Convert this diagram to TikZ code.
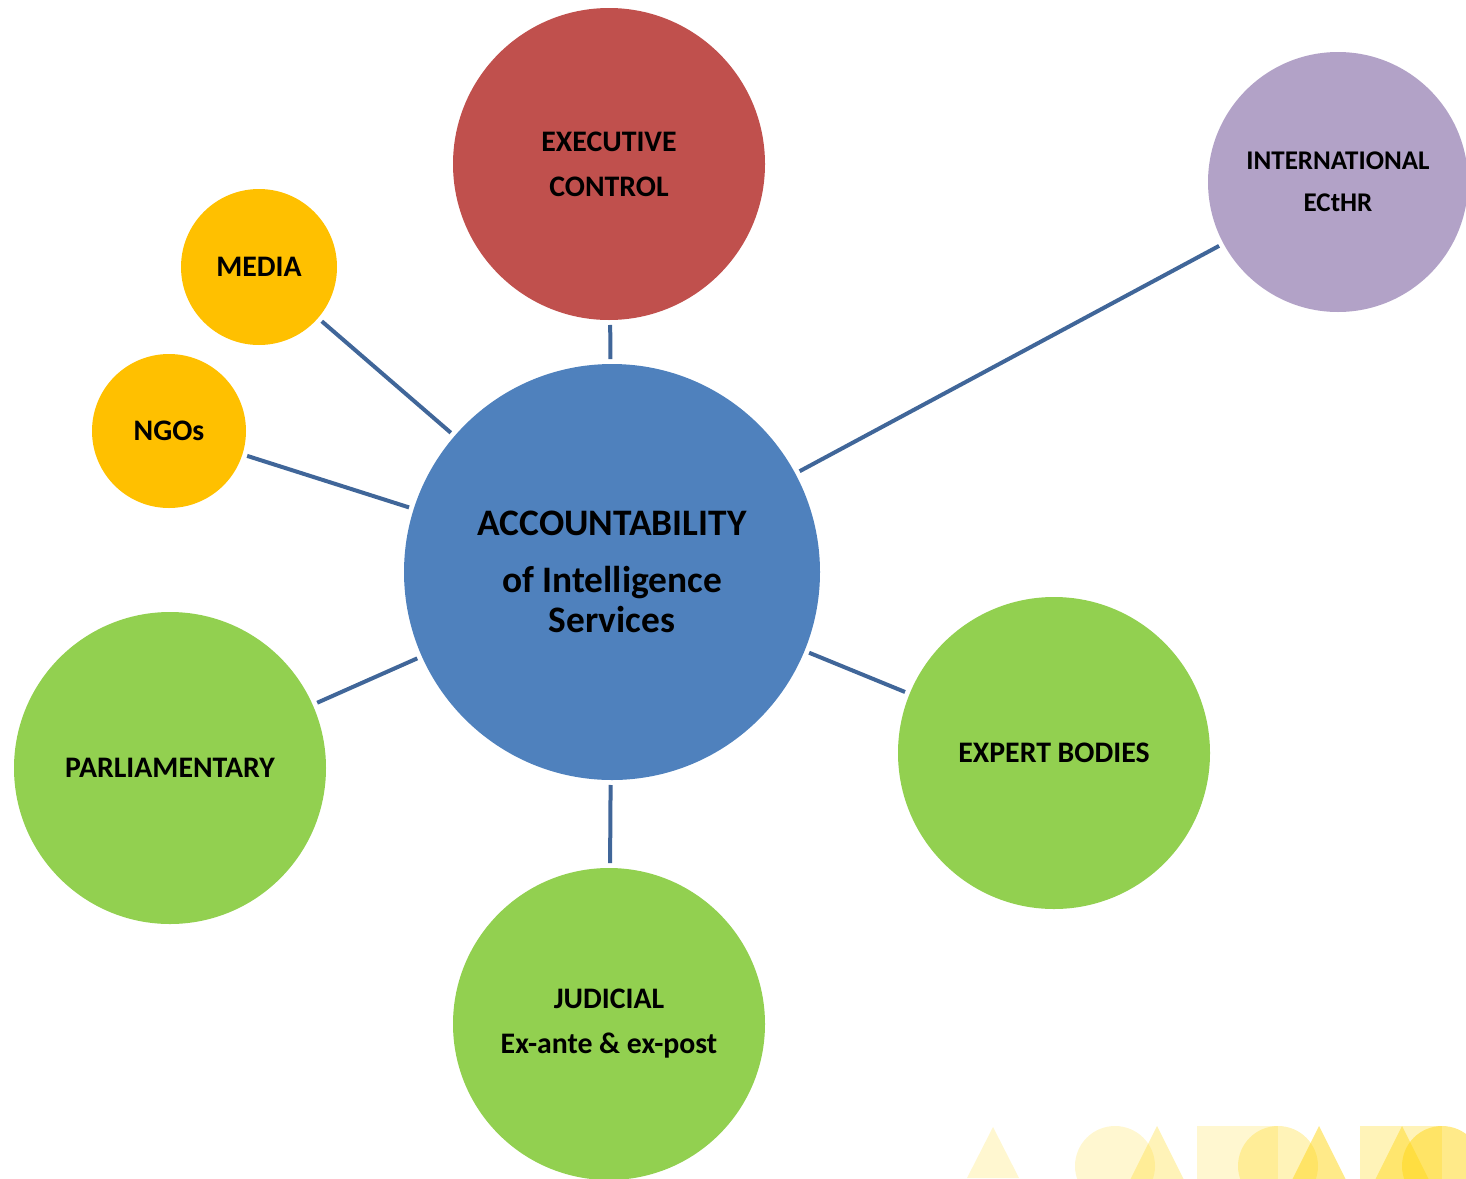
\documentclass[tikz,border=0pt]{standalone}
\usepackage{fontspec}
\setmainfont{Carlito}
\begin{document}
\begin{tikzpicture}[x=1pt,y=-1pt,
  bub/.style={circle,draw=none,inner sep=0pt,outer sep=0pt,align=center,
    font=\bfseries\fontsize{29.8}{45}\selectfont},
  conn/.style={draw={rgb,255:red,64;green,102;blue,153},line width=4pt,shorten >=5pt,shorten <=5pt},
  deco/.style={fill={rgb,255:red,255;green,214;blue,20},draw=none}
]
\definecolor{cblue}{RGB}{79,129,189}
\definecolor{cred}{RGB}{192,80,77}
\definecolor{cpurple}{RGB}{178,162,199}
\definecolor{cgold}{RGB}{255,192,0}
\definecolor{cgreen}{RGB}{146,208,80}
\useasboundingbox (0,0) rectangle (1466,1178);
\clip (0,0) rectangle (1466,1178);

% decorations bottom right
\fill[deco,opacity=0.2] (993,1127) -- (1019,1178) -- (967,1178) -- cycle;
\fill[deco,opacity=0.2] (1115,1166) circle (40);
\fill[deco,opacity=0.3] (1157,1126) -- (1184,1180) -- (1130,1180) -- cycle;
\fill[deco,opacity=0.2] (1197,1126) rectangle (1278,1180);
\fill[deco,opacity=0.3] (1278,1166) circle (40);
\fill[deco,opacity=0.5] (1319,1126) -- (1346,1180) -- (1292,1180) -- cycle;
\fill[deco,opacity=0.3] (1360,1126) rectangle (1442,1180);
\fill[deco,opacity=0.45] (1402,1126) -- (1429,1180) -- (1375,1180) -- cycle;
\fill[deco,opacity=0.5] (1442,1166) circle (40);

\node[bub,fill=cblue,minimum size=416pt,font=\bfseries\fontsize{37.4}{40}\selectfont] (center) at (612,572)
  {ACCOUNTABILITY\\[17pt]of Intelligence\\Services};
\node[bub,fill=cred,minimum size=312pt] (exec) at (609,164) {EXECUTIVE\\CONTROL};
\node[bub,fill=cpurple,minimum size=260pt,font=\bfseries\fontsize{27}{42}\selectfont] (intl) at (1338,182) {INTERNATIONAL\\ECtHR};
\node[bub,fill=cgold,minimum size=156pt] (media) at (259,267) {MEDIA};
\node[bub,fill=cgold,minimum size=154pt] (ngos) at (169,431) {NGOs};
\node[bub,fill=cgreen,minimum size=312pt] (parl) at (170,768) {PARLIAMENTARY};
\node[bub,fill=cgreen,minimum size=312pt] (expert) at (1054,753) {EXPERT BODIES};
\node[bub,fill=cgreen,minimum size=312pt] (jud) at (609,1024) {JUDICIAL\\Ex-ante \& ex-post};

\draw[conn] (exec) -- (center);
\draw[conn] (media) -- (center);
\draw[conn] (ngos) -- (center);
\draw[conn] (intl) -- (center);
\draw[conn] (parl) -- (center);
\draw[conn] (expert) -- (center);
\draw[conn] (jud) -- (center);
\end{tikzpicture}
\end{document}
